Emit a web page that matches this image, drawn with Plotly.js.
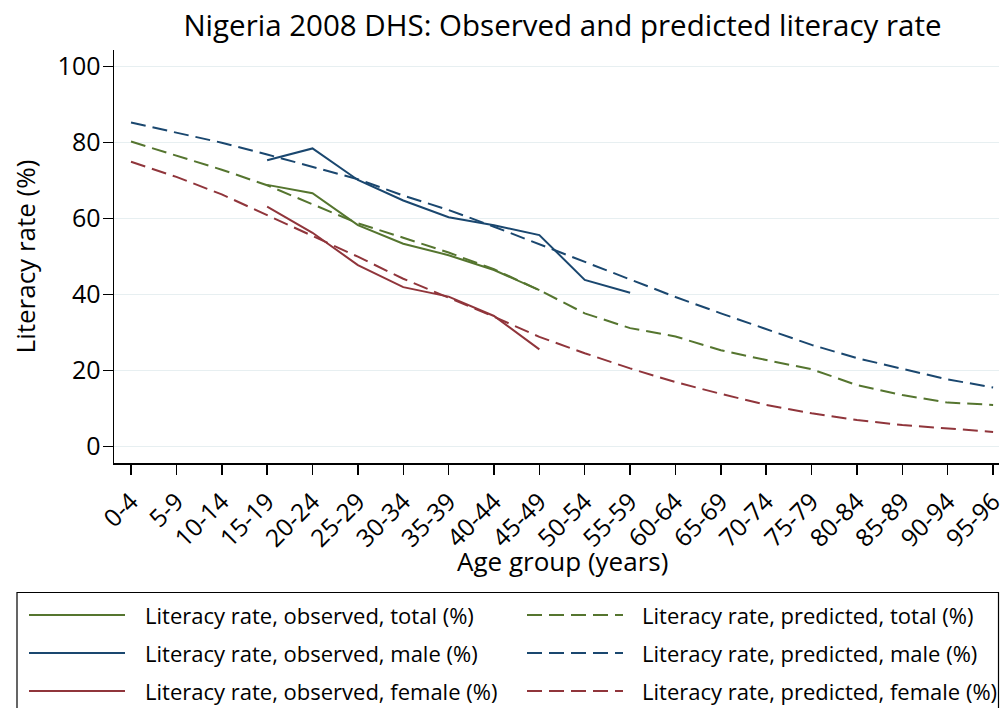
<!DOCTYPE html>
<html>
<head>
<meta charset="utf-8">
<script src="https://cdn.plot.ly/plotly-3.0.1.min.js"></script>
<style>html,body{margin:0;padding:0;background:#fff;}#chart{width:1000px;height:708px;}</style>
</head>
<body>
<div id="chart"></div>
<script>
const ageGroups = ["0-4","5-9","10-14","15-19","20-24","25-29","30-34","35-39","40-44","45-49",
  "50-54","55-59","60-64","65-69","70-74","75-79","80-84","85-89","90-94","95-96"];

const observedTotal  = [null,null,null,68.9,66.7,58.3,53.4,50.4,46.5,41.2,null,null,null,null,null,null,null,null,null,null];
const observedMale   = [null,null,null,75.4,78.5,70.2,64.8,60.4,58.3,55.7,43.9,40.5,null,null,null,null,null,null,null,null];
const observedFemale = [null,null,null,63.2,56.3,47.8,42.0,39.5,34.4,25.6,null,null,null,null,null,null,null,null,null,null];

const predictedTotal  = [80.3,76.5,72.9,68.8,63.8,58.8,55.0,51.1,46.7,41.2,35.1,31.2,29.0,25.4,22.8,20.4,16.2,13.6,11.6,11.0];
const predictedMale   = [85.3,82.7,80.0,76.9,73.7,70.4,66.1,62.3,57.9,53.3,48.7,43.9,39.4,35.1,30.9,26.8,23.3,20.4,17.7,15.6];
const predictedFemale = [75.0,71.0,66.4,60.9,55.3,50.0,44.2,39.3,34.2,28.9,24.6,20.6,17.0,13.9,11.0,8.8,7.0,5.7,4.8,3.9];

const yTicks = [0,20,40,60,80,100];

const legendLabels = [
  "Literacy rate, observed, total (%)", "Literacy rate, predicted, total (%)",
  "Literacy rate, observed, male (%)", "Literacy rate, predicted, male (%)",
  "Literacy rate, observed, female (%)", "Literacy rate, predicted, female (%)"
];

const GREEN = "#55752f", NAVY = "#1a476f", MAROON = "#90353b";
const DASH = "15px,7px";
const FONT = "Open Sans, DejaVu Sans, sans-serif";

const seriesList = [
  {y: observedTotal,   color: GREEN,  dashed: false},
  {y: predictedTotal,  color: GREEN,  dashed: true},
  {y: observedMale,    color: NAVY,   dashed: false},
  {y: predictedMale,   color: NAVY,   dashed: true},
  {y: observedFemale,  color: MAROON, dashed: false},
  {y: predictedFemale, color: MAROON, dashed: true}
];

const data = seriesList.map((s, i) => ({
  type: "scatter", mode: "lines", name: legendLabels[i],
  x: ageGroups, y: s.y,
  line: {color: s.color, width: 2, dash: s.dashed ? DASH : "solid"},
  connectgaps: false, hoverinfo: "skip", showlegend: false
}));

// plot area geometry (pixels)
const W = 1000, H = 708, L = 114, R = 1, T = 50, B = 245;
const PW = W - L - R, PH = H - T - B;
const px = X => (X - L) / PW;
const py = Y => (H - B - Y) / PH;

// hand-built legend box (two columns, three rows)
const shapes = [{
  type: "rect", xref: "paper", yref: "paper",
  x0: px(17), x1: px(998.5), y0: py(592.5), y1: py(712),
  line: {color: "#000", width: 1.2}, fillcolor: "rgba(0,0,0,0)", layer: "above"
}];
const annotations = [];
const colLineX = [29, 527], colTextX = [143, 640], rowY = [615, 653, 691];
seriesList.forEach((s, i) => {
  const c = i % 2, r = Math.floor(i / 2);
  shapes.push({
    type: "line", xref: "paper", yref: "paper",
    x0: px(colLineX[c]), x1: px(colLineX[c] + 96), y0: py(rowY[r]), y1: py(rowY[r]),
    line: {color: s.color, width: 2, dash: s.dashed ? DASH : "solid"}
  });
  annotations.push({
    xref: "paper", yref: "paper", x: px(colTextX[c]), y: py(rowY[r]),
    xanchor: "left", yanchor: "middle", showarrow: false,
    text: legendLabels[i], font: {size: 22, family: FONT, color: "#000"}
  });
});

// x-axis title placed as a centred annotation under the rotated tick labels
annotations.push({
  xref: "paper", yref: "paper", x: px(562), y: py(561),
  xanchor: "center", yanchor: "middle", showarrow: false,
  text: "Age group (years)", font: {size: 26, family: FONT, color: "#000"}
});

const layout = {
  width: W, height: H,
  margin: {l: L, r: R, t: T, b: B, pad: 0, autoexpand: false},
  paper_bgcolor: "#fff", plot_bgcolor: "#fff",
  font: {family: FONT, color: "#000"},
  showlegend: false,
  title: {text: "Nigeria 2008 DHS: Observed and predicted literacy rate",
    font: {size: 29.5, family: FONT, color: "#000"},
    x: px(562.5), xref: "paper", xanchor: "center",
    y: 1 - 26/H, yref: "container", yanchor: "middle"},
  xaxis: {
    type: "category", range: [-0.375, 19.13],
    showline: true, linecolor: "#000", linewidth: 1.5,
    ticks: "outside", ticklen: 10, tickcolor: "#000", tickwidth: 1.5,
    tickangle: -45, tickfont: {size: 24.5, family: FONT}, ticklabelstandoff: 3,
    showgrid: false, zeroline: false, automargin: false
  },
  yaxis: {
    range: [-4.29, 104.4], tickvals: yTicks, ticktext: yTicks.map(String),
    showline: true, linecolor: "#000", linewidth: 1.5,
    ticks: "outside", ticklen: 10, tickcolor: "#000", tickwidth: 1.5,
    tickfont: {size: 25, family: FONT}, ticklabelstandoff: -3,
    showgrid: true, gridcolor: "#e7eff1", gridwidth: 1.5, zeroline: false, automargin: false,
    title: {text: "Literacy rate (%)", font: {size: 26, family: FONT}, standoff: 14}
  },
  shapes: shapes,
  annotations: annotations
};

Plotly.newPlot("chart", data, layout, {staticPlot: true, displayModeBar: false});
</script>
</body>
</html>
